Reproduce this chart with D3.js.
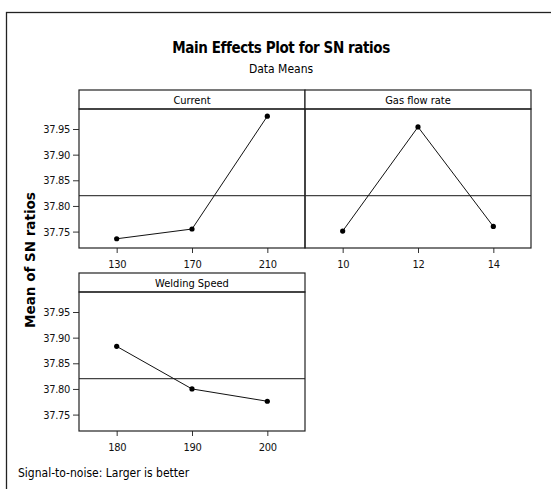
<!DOCTYPE html>
<html>
<head>
<meta charset="utf-8">
<script src="https://cdn.jsdelivr.net/npm/d3@7"></script>
<style>
  body { margin: 0; background: #fff; }
  svg { display: block; }
  .tick text { font-family: "DejaVu Sans Condensed", "DejaVu Sans", sans-serif; font-size: 11px; letter-spacing: -0.3px; fill: #111; }
  .tick line { stroke: #333; }
</style>
</head>
<body>
<div id="chart"></div>
<script>
// factor levels and mean SN ratios
var factors = ['Current', 'Gas flow rate', 'Welding Speed'];
var currentLevels = [130, 170, 210];
var currentMeans = [37.736, 37.755, 37.975];
var gasLevels = [10, 12, 14];
var gasMeans = [37.751, 37.954, 37.760];
var speedLevels = [180, 190, 200];
var speedMeans = [37.883, 37.800, 37.776];
var overallMean = 37.82;
var yTicks = [37.75, 37.80, 37.85, 37.90, 37.95];

var panels = [
  {name: factors[0], levels: currentLevels, means: currentMeans, col: 0, row: 0},
  {name: factors[1], levels: gasLevels, means: gasMeans, col: 1, row: 0},
  {name: factors[2], levels: speedLevels, means: speedMeans, col: 0, row: 1}
];

var width = 551, height = 489;
var left = 79, panelW = 226, stripH = 19, plotH = 139;
var rowTop = [90, 273];
var narrow = '"DejaVu Sans Condensed", "DejaVu Sans", sans-serif';

var svg = d3.select('#chart').append('svg')
    .attr('width', width)
    .attr('height', height);

// outer frame (runs off the right and bottom edges)
svg.append('rect')
    .attr('x', 6.5).attr('y', 12.5)
    .attr('width', 600).attr('height', 600)
    .style('fill', 'none')
    .style('stroke', '#222')
    .style('stroke-width', 1.3);

svg.append('text')
    .attr('x', 281).attr('y', 53)
    .attr('text-anchor', 'middle')
    .style('font-family', narrow)
    .style('font-weight', 'bold')
    .style('font-size', '15px')
    .style('letter-spacing', '-0.4px')
    .text('Main Effects Plot for SN ratios');

svg.append('text')
    .attr('x', 281).attr('y', 73)
    .attr('text-anchor', 'middle')
    .style('font-family', narrow)
    .style('font-size', '12px')
    .text('Data Means');

svg.append('text')
    .attr('transform', 'translate(35,260) rotate(-90)')
    .attr('text-anchor', 'middle')
    .style('font-family', '"DejaVu Sans", sans-serif')
    .style('font-weight', 'bold')
    .style('font-size', '13.5px')
    .text('Mean of SN ratios');

svg.append('text')
    .attr('x', 18).attr('y', 477)
    .style('font-family', narrow)
    .style('font-size', '12px')
    .text('Signal-to-noise: Larger is better');

panels.forEach(function(p) {
  var x0 = left + p.col * panelW;
  var y0 = rowTop[p.row] + stripH;

  var g = svg.append('g').attr('transform', 'translate(' + x0 + ',' + y0 + ')');

  var x = d3.scalePoint()
      .domain(p.levels)
      .range([0, panelW])
      .padding(0.5);

  var y = d3.scaleLinear()
      .domain([37.718, 37.989])
      .range([plotH, 0]);

  // strip
  g.append('rect')
      .attr('x', 0).attr('y', -stripH)
      .attr('width', panelW).attr('height', stripH)
      .style('fill', '#fff')
      .style('stroke', '#222')
      .style('stroke-width', 1.2);

  g.append('text')
      .attr('x', panelW / 2).attr('y', -stripH / 2 + 4)
      .attr('text-anchor', 'middle')
      .style('font-family', narrow)
      .style('font-size', '11px')
      .text(p.name);

  // x axis
  var xa = g.append('g')
      .attr('transform', 'translate(0,' + plotH + ')')
      .call(d3.axisBottom(x).tickSize(5).tickPadding(7));
  xa.select('.domain').remove();

  if (p.col === 0) {
    var ya = g.append('g')
        .call(d3.axisLeft(y).tickValues(yTicks).tickFormat(d3.format('.2f')).tickSize(6).tickPadding(3));
    ya.select('.domain').remove();
  }

  // reference line at overall mean
  g.append('line')
      .attr('x1', 0).attr('x2', panelW)
      .attr('y1', y(overallMean)).attr('y2', y(overallMean))
      .style('stroke', '#444')
      .style('stroke-width', 1.2);

  var line = d3.line()
      .x(function(d, i) { return x(p.levels[i]); })
      .y(function(d) { return y(d); });

  g.append('path')
      .datum(p.means)
      .attr('d', line)
      .style('fill', 'none')
      .style('stroke', '#111')
      .style('stroke-width', 1);

  g.selectAll('circle')
      .data(p.means)
    .enter().append('circle')
      .attr('cx', function(d, i) { return x(p.levels[i]); })
      .attr('cy', function(d) { return y(d); })
      .attr('r', 2.6)
      .style('fill', '#000');

  // panel frame
  g.append('rect')
      .attr('x', 0).attr('y', 0)
      .attr('width', panelW).attr('height', plotH)
      .style('fill', 'none')
      .style('stroke', '#222')
      .style('stroke-width', 1.2);
});
</script>
</body>
</html>
